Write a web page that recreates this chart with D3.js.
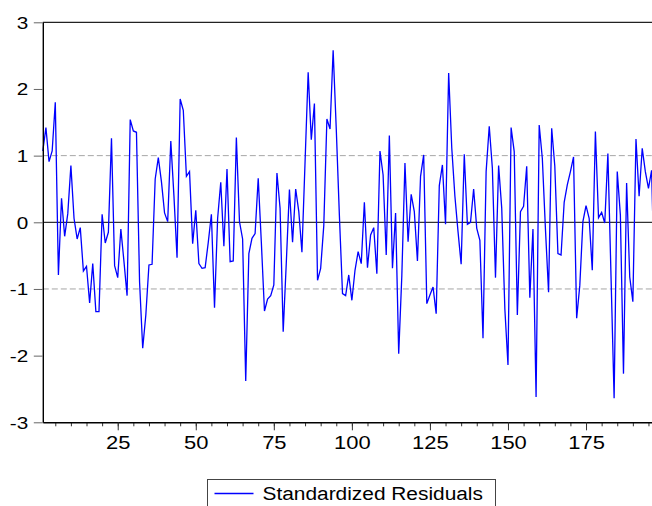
<!DOCTYPE html>
<html>
<head>
<meta charset="utf-8">
<script src="https://cdn.jsdelivr.net/npm/d3@7"></script>
<style>
  body { margin: 0; background: #fff; }
  svg { display: block; }
  text { font-family: "Liberation Sans", Arial, sans-serif; fill: #000; }
</style>
</head>
<body>
<svg width="652" height="506"></svg>
<script>
var residuals = [
  1.07, 1.42, 0.91, 1.07, 1.80, -0.79, 0.36, -0.21, 0.13, 0.85,
  0.06, -0.25, -0.08, -0.73, -0.66, -1.21, -0.62, -1.34, -1.34, 0.12,
  -0.31, -0.15, 1.26, -0.65, -0.83, -0.10, -0.59, -1.10, 1.54, 1.37,
  1.35, -0.90, -1.89, -1.39, -0.64, -0.63, 0.65, 0.97, 0.61, 0.14,
  0.01, 1.22, 0.40, -0.53, 1.85, 1.68, 0.69, 0.76, -0.32, 0.18,
  -0.62, -0.69, -0.68, -0.30, 0.12, -1.28, 0.06, 0.60, -0.36, 0.80,
  -0.59, -0.58, 1.27, 0.01, -0.25, -2.38, -0.47, -0.24, -0.17, 0.66,
  -0.30, -1.33, -1.15, -1.10, -0.94, 0.74, 0.21, -1.64, -0.60, 0.49,
  -0.30, 0.50, 0.16, -0.45, 0.90, 2.25, 1.24, 1.78, -0.87, -0.69,
  -0.05, 1.55, 1.40, 2.58, 1.40, 0.10, -1.07, -1.10, -0.79, -1.17,
  -0.72, -0.44, -0.62, 0.30, -0.68, -0.19, -0.08, -0.77, 1.07, 0.71,
  -0.49, 1.30, -0.69, 0.14, -1.97, -0.80, 0.89, -0.29, 0.42, 0.16,
  -0.58, 0.69, 1.01, -1.22, -1.09, -0.97, -1.37, 0.55, 0.86, -0.03,
  2.24, 1.11, 0.39, -0.14, -0.63, 1.02, -0.03, 0.00, 0.50, -0.09,
  -0.27, -1.74, 0.76, 1.44, 0.81, -0.83, 0.85, 0.21, -1.30, -2.14,
  1.42, 1.06, -1.39, 0.16, 0.24, 0.84, -1.13, -0.10, -2.62, 1.46,
  0.96, -0.10, -1.05, 1.41, 0.84, -0.47, -0.49, 0.30, 0.56, 0.76,
  0.98, -1.44, -0.95, 0.01, 0.25, 0.06, -0.72, 1.36, 0.07, 0.15,
  -0.01, 1.03, -0.80, -2.64, 0.76, 0.11, -2.27, 0.59, -0.82, -1.19,
  1.25, 0.39, 1.11, 0.76, 0.51, 0.78, -1.10
];
var xMajorTicks = [25, 50, 75, 100, 125, 150, 175];
var xMinorTicks = d3.range(5, 200, 5);
var yTicks = [-3, -2, -1, 0, 1, 2, 3];
var bandLines = [-1, 1];
var seriesName = 'Standardized Residuals';

var svg = d3.select('svg');

// plot frame (right side runs past the picture edge)
var plotLeft = 42.8, plotTop = 22.3, plotBottom = 422.3;
var stepX = 3.122;

var x = d3.scaleLinear()
    .domain([1, 200])
    .range([plotLeft, plotLeft + 199 * stepX]);
var y = d3.scaleLinear()
    .domain([-3, 3])
    .range([plotBottom, plotTop]);

var textStretch = 1.22;

// dashed +/-1 lines
svg.append('g')
    .selectAll('line')
    .data(bandLines)
    .enter().append('line')
    .attr('x1', plotLeft)
    .attr('x2', x(200))
    .attr('y1', function(d) { return y(d); })
    .attr('y2', function(d) { return y(d); })
    .attr('stroke', '#a6a6a6')
    .attr('stroke-width', 1)
    .attr('stroke-dasharray', '6,3');

// zero line
svg.append('line')
    .attr('x1', plotLeft)
    .attr('x2', x(200))
    .attr('y1', y(0))
    .attr('y2', y(0))
    .attr('stroke', '#000')
    .attr('stroke-width', 1);

// residual series
var line = d3.line()
    .x(function(d, i) { return x(i + 1); })
    .y(function(d) { return y(d); });

svg.append('path')
    .datum(residuals)
    .attr('d', line)
    .attr('fill', 'none')
    .attr('stroke', '#0000ff')
    .attr('stroke-width', 1.3)
    .attr('stroke-linejoin', 'miter');

// top frame line
svg.append('line')
    .attr('x1', plotLeft)
    .attr('x2', x(200))
    .attr('y1', y(3))
    .attr('y2', y(3))
    .attr('stroke', '#222')
    .attr('stroke-width', 1.3);

// y axis
var yAxis = svg.append('g')
    .attr('transform', 'translate(' + plotLeft + ',0)')
    .call(d3.axisLeft(y).tickValues(yTicks).tickSize(9).tickSizeOuter(0).tickFormat(d3.format('d')));
yAxis.select('.domain').attr('stroke', '#000').attr('stroke-width', 1.4);
yAxis.selectAll('.tick line').attr('stroke', '#666');
yAxis.selectAll('.tick text')
    .attr('x', null)
    .attr('dy', null)
    .attr('font-size', 17)
    .attr('text-anchor', 'end')
    .attr('dominant-baseline', 'central')
    .attr('transform', 'translate(-14.5,0) scale(' + textStretch + ',1)')
    .text(function(d) { return d < 0 ? '-' + Math.abs(d) : d; });

// x axis: minor ticks then major ticks with labels
var xMinor = svg.append('g')
    .attr('transform', 'translate(0,' + plotBottom + ')')
    .call(d3.axisBottom(x).tickValues(xMinorTicks).tickSize(4).tickFormat(''));
xMinor.select('.domain').remove();
xMinor.selectAll('.tick line').attr('stroke', '#333');

var xAxis = svg.append('g')
    .attr('transform', 'translate(0,' + plotBottom + ')')
    .call(d3.axisBottom(x).tickValues(xMajorTicks).tickSize(8).tickSizeOuter(0));
xAxis.select('.domain').attr('stroke', '#000').attr('stroke-width', 1.4);
xAxis.selectAll('.tick line').attr('stroke', '#333');
xAxis.selectAll('.tick text')
    .attr('y', null)
    .attr('dy', null)
    .attr('font-size', 18)
    .attr('transform', 'translate(0,27) scale(' + textStretch + ',1)');

// legend
var legend = svg.append('g').attr('transform', 'translate(207.5,479.5)');
legend.append('rect')
    .attr('width', 288)
    .attr('height', 40)
    .attr('fill', '#fff')
    .attr('stroke', '#444')
    .attr('stroke-width', 1);
legend.append('line')
    .attr('x1', 7)
    .attr('x2', 46)
    .attr('y1', 14)
    .attr('y2', 14)
    .attr('stroke', '#0000ff')
    .attr('stroke-width', 1.3);
legend.append('text')
    .attr('transform', 'translate(55,20) scale(1.16,1)')
    .attr('font-size', 18)
    .text(seriesName);
</script>
</body>
</html>
